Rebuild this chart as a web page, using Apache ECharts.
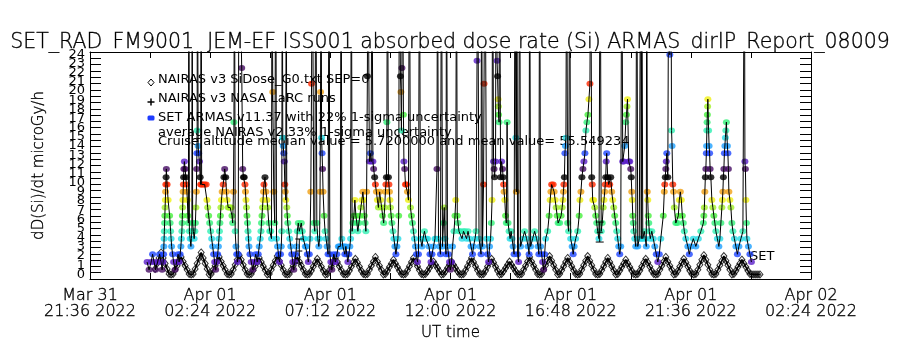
<!DOCTYPE html>
<html><head><meta charset="utf-8">
<script src="https://cdn.jsdelivr.net/npm/echarts@6/dist/echarts.min.js"></script>
<style>html,body{margin:0;padding:0;background:#fff}#c{width:900px;height:350px}</style>
</head><body><div id="c"></div>
<script>
const FONT = 'DejaVu Sans';
const FW = 200;
const titleText = 'SET_RAD_FM9001  JEM-EF ISS001 absorbed dose rate (Si) ARMAS_dirIP_Report_08009';
const xAxisName = 'UT time';
const yAxisName = 'dD(Si)/dt microGy/h';
const xTickLabels = ['Mar 31\n21:36 2022','Apr 01\n02:24 2022','Apr 01\n07:12 2022','Apr 01\n12:00 2022','Apr 01\n16:48 2022','Apr 01\n21:36 2022','Apr 02\n02:24 2022'];
const yTickLabels = ['0','1','2','3','4','5','6','7','8','9','10','11','12','13','14','15','16','17','18','19','20','21','22','23','24'];
const legendTexts = [
  'NAIRAS v3 SiDose_G0.txt SEP=0',
  'NAIRAS v3 NASA LaRC runs',
  'SET ARMAS v11.37 with 22% 1-sigma uncertainty',
  'average NAIRAS v2 33% 1-sigma uncertainty',
  'Cruise altitude median value = 5.7200000 and mean value= 55.549234'
];
const sideLabel = 'SET';

// NAIRAS v3 SiDose model: uniform sampling (hours since Mar 31 21:36)
const nairasStart = 2.60, nairasStep = 0.08;
const nairasDose = [
 0.6,1.2,1.8,2.4,1.8,1.2,0.6,0.05,0.0,
 0.05,0.5,0.95,1.4,1.9,1.4,0.95,0.5,0.05,0.0,
 0.05,0.6,1.2,1.8,2.4,1.8,1.2,0.6,0.0,
 0.05,0.5,0.95,1.4,1.9,1.4,0.95,0.5,0.05,0.0,
 0.05,0.5,1.05,1.6,2.1,1.6,1.05,0.5,0.05,0.0,
 0.05,0.45,0.9,1.35,1.8,1.35,0.9,0.45,0.0,
 0.05,0.5,1.0,1.5,2.0,1.5,1.0,0.5,0.05,0.0,
 0.05,0.5,0.95,1.4,1.9,1.4,0.95,0.5,0.05,0.0,
 0.05,0.4,0.85,1.3,1.7,1.3,0.85,0.4,0.0,
 0.05,0.45,0.9,1.35,1.8,1.35,0.9,0.45,0.05,0.0,
 0.05,0.4,0.85,1.3,1.7,1.3,0.85,0.4,0.05,0.0,
 0.05,0.5,0.95,1.4,1.9,1.4,0.95,0.5,0.0,
 0.05,0.4,0.8,1.2,1.6,1.2,0.8,0.4,0.05,0.0,
 0.05,0.45,0.9,1.35,1.8,1.35,0.9,0.45,0.05,0.0,
 0.05,0.35,0.7,1.05,1.4,1.05,0.7,0.35,0.0,
 0.05,0.35,0.7,1.05,1.4,1.05,0.7,0.35,0.05,0.0,
 0.05,0.45,0.9,1.35,1.8,1.35,0.9,0.45,0.05,0.0,
 0.05,0.4,0.85,1.3,1.7,1.3,0.85,0.4,0.0,
 0.05,0.35,0.7,1.05,1.4,1.05,0.7,0.35,0.05,0.0,
 0.05,0.5,0.95,1.4,1.9,1.4,0.95,0.5,0.05,0.0,
 0.05,0.5,1.0,1.5,2.0,1.5,1.0,0.5,0.0,
 0.05,0.45,0.9,1.35,1.8,1.35,0.9,0.45,0.05,0.0,
 0.05,0.5,1.0,1.5,2.0,1.5,1.0,0.5,0.05,0.0,
 0.05,0.45,0.9,1.35,1.8,1.35,0.9,0.45,0.0,
 0.05,0.4,0.8,1.2,1.6,1.2,0.8,0.4,0.05,0.0,
 0.05,0.4,0.85,1.3,1.7,1.3,0.85,0.4,0.05,0.0,
 0.05,0.5,0.95,1.4,1.9,1.4,0.95,0.5,0.0,
 0.05,0.4,0.85,1.3,1.7,1.3,0.85,0.4,0.05,0.0,
 0.05,0.5,1.05,1.6,2.1,1.6,1.05,0.5,0.05,0.0,
 0.05,0.5,1.0,1.5,2.0,1.5,1.0,0.5,0.0,
 0.05,0.4,0.8,1.2,1.6,1.2,0.8,0.4,0.05,0.0,
 0.0,0.0,0.0,0.0
];

// SET ARMAS measurements [hours since Mar 31 21:36, microGy/h]; 40 = off scale
const armasPoints = [
[2.28,1.35],[2.36,0.5],[2.44,1.35],[2.50,2.2],[2.56,1.35],[2.62,0.5],[2.70,1.35],[2.78,2.2],[2.84,1.35],[2.88,0.5],
[2.92,1.35],[2.94,2.2],[2.95,3.05],[2.96,3.9],[2.97,4.7],[2.98,5.6],[2.99,6.4],[3.00,7.3],[3.01,8.1],[3.02,9.0],[3.03,9.8],[3.04,10.6],[3.05,11.5],[3.08,9.8],[3.12,8.1],[3.18,6.4],[3.20,5.6],[3.22,4.7],[3.24,3.9],[3.26,3.05],[3.30,2.2],[3.34,1.35],[3.40,0.5],[3.46,1.35],[3.52,2.2],[3.56,1.35],
[3.60,2.2],[3.63,3.05],[3.65,3.9],[3.67,4.7],[3.68,5.6],[3.69,6.4],[3.70,7.3],[3.71,8.1],[3.72,9.0],[3.73,9.8],[3.74,10.6],[3.75,11.5],[3.77,12.3],[3.80,11.5],[3.83,10.6],[3.85,9.8],[3.87,9.0],[3.89,8.1],[3.91,6.4],[3.93,5.6],[3.95,40],[3.97,4.7],[4.00,3.9],[4.03,3.05],[4.05,3.9],[4.07,4.7],[4.08,40],[4.10,5.6],[4.13,4.7],[4.16,3.9],[4.19,4.7],[4.21,5.6],[4.23,7.3],[4.25,9.0],[4.26,11.5],[4.27,13.2],[4.28,15.7],[4.29,40],[4.32,14.0],[4.34,13.2],[4.37,12.3],[4.40,10.6],[4.42,9.8],[4.44,40],[4.46,9.8],[4.52,9.8],[4.58,9.8],[4.64,9.8],[4.67,8.1],[4.70,7.3],[4.74,6.4],[4.78,5.6],[4.82,4.7],[4.86,3.9],[4.90,3.05],[4.94,2.2],[4.98,1.35],[5.02,0.5],[5.06,1.35],
[5.10,2.2],[5.13,3.05],[5.15,3.9],[5.17,4.7],[5.19,5.6],[5.21,6.4],[5.23,7.3],[5.25,8.1],[5.28,9.0],[5.32,9.8],[5.35,10.6],[5.38,11.5],[5.42,10.6],[5.45,9.0],[5.48,8.1],[5.52,7.3],[5.56,7.3],[5.60,7.3],[5.64,7.3],[5.67,6.4],[5.70,5.6],
[5.73,9.0],[5.75,16.6],[5.77,40],[5.80,4.7],[5.83,3.05],[5.86,2.2],[5.89,1.35],[5.92,2.2],[5.95,40],[6.06,22.5],[6.10,11.5],[6.13,10.6],[6.16,10.6],[6.19,9.8],[6.21,9.0],[6.23,8.1],[6.25,7.3],[6.27,6.4],[6.29,5.6],[6.31,4.7],[6.33,3.9],[6.35,3.05],[6.39,2.2],[6.44,1.35],[6.50,0.5],[6.56,1.35],[6.62,2.2],[6.68,1.35],
[6.72,2.2],[6.76,3.05],[6.80,3.9],[6.83,4.7],[6.85,5.6],[6.87,6.4],[6.89,7.3],[6.91,8.1],[6.93,9.0],[6.95,9.8],[6.99,10.6],[7.03,9.0],[7.07,8.1],[7.10,7.3],[7.14,5.6],[7.18,4.7],[7.22,4.7],[7.25,3.9],
[7.27,40],[7.30,19.9],[7.34,9.0],[7.38,5.6],[7.42,40],[7.45,3.9],[7.49,3.05],[7.53,2.2],[7.57,1.35],[7.61,2.2],[7.64,3.05],[7.66,4.7],
[7.68,40],[7.70,14.9],[7.72,14.0],[7.74,13.2],[7.76,12.3],[7.78,9.8],[7.80,9.0],[7.82,8.1],[7.84,40],[7.86,7.3],[7.88,6.4],[7.90,5.6],[7.94,4.7],[7.98,3.9],[8.02,3.05],[8.06,2.2],[8.10,1.35],[8.14,0.5],[8.18,1.35],[8.22,2.2],[8.25,3.05],
[8.28,4.7],[8.32,5.6],[8.36,4.7],[8.40,4.7],[8.44,5.6],[8.48,4.7],[8.52,3.9],[8.56,3.9],[8.60,3.05],[8.64,3.05],[8.68,2.2],[8.72,1.35],[8.76,2.2],[8.79,3.9],[8.82,9.0],[8.85,20.8],[8.88,40],[8.94,5.6],[8.98,4.7],[9.02,40],[9.06,5.6],[9.10,3.9],[9.14,3.05],
[9.17,3.9],[9.19,9.0],[9.21,19.9],[9.23,40],[9.25,14.9],[9.27,13.2],[9.29,11.5],[9.31,9.0],[9.35,6.4],[9.39,4.7],[9.43,3.9],[9.47,3.05],[9.51,2.2],[9.55,40],[9.58,2.2],[9.62,1.35],[9.66,0.5],[9.70,1.35],[9.74,2.2],[9.80,1.35],[9.86,2.2],[9.92,3.05],
[9.96,3.05],[10.00,3.05],[10.03,40],[10.06,3.9],[10.10,3.05],[10.14,3.05],[10.18,2.2],[10.22,3.05],[10.26,2.2],[10.30,1.35],[10.34,2.2],[10.38,3.05],[10.41,3.9],
[10.44,40],[10.47,4.7],[10.50,5.6],[10.54,6.4],[10.58,8.1],[10.62,6.4],[10.66,5.6],[10.70,4.7],[10.74,5.6],[10.78,6.4],[10.82,7.3],[10.86,8.1],[10.90,9.0],[10.93,8.1],[10.96,6.4],[10.99,5.6],[11.02,4.7],[11.05,9.0],
[11.08,21.6],[11.10,40],[11.16,12.3],[11.20,13.2],[11.23,12.3],[11.26,40],[11.30,12.3],[11.33,11.5],[11.37,10.6],[11.40,9.8],[11.44,9.0],[11.48,8.1],[11.52,7.3],[11.57,9.0],[11.61,8.1],[11.65,7.3],[11.69,6.4],[11.73,5.6],[11.77,7.3],[11.80,9.0],[11.82,9.8],[11.84,10.6],[11.86,16.6],[11.88,40],[11.92,10.6],[11.94,9.8],[11.96,9.0],[11.98,8.1],[12.00,7.3],[12.03,6.4],[12.06,5.6],[12.10,4.7],[12.14,3.9],[12.18,3.05],[12.22,2.2],[12.26,3.05],[12.30,3.9],[12.33,6.4],
[12.36,40],[12.40,21.6],[12.42,19.9],[12.44,15.7],[12.46,22.5],[12.48,40],[12.52,17.4],[12.54,12.3],[12.57,11.5],[12.60,9.8],[12.64,9.8],[12.68,9.0],[12.72,8.1],[12.76,40],[12.80,7.3],[12.84,6.4],[12.88,5.6],[12.92,4.7],[12.96,3.9],[13.00,3.05],[13.04,2.2],[13.08,1.35],[13.12,2.2],[13.16,40],[13.20,3.9],[13.26,3.05],[13.30,3.9],[13.36,4.7],[13.42,3.9],[13.48,3.9],[13.54,3.05],[13.58,2.2],[13.62,1.35],[13.66,2.2],[13.72,3.05],[13.78,3.9],
[13.82,3.9],[13.86,11.5],[13.88,40],[13.92,3.9],[13.96,3.05],[14.00,2.2],[14.04,40],[14.08,3.05],[14.12,5.6],[14.15,7.3],[14.18,3.9],[14.22,2.2],[14.24,40],[14.28,3.05],[14.32,2.2],[14.36,1.35],[14.40,0.5],[14.44,1.35],[14.48,3.05],
[14.54,4.7],[14.58,6.4],[14.61,8.1],[14.64,40],[14.67,6.4],[14.70,5.6],[14.74,4.7],[14.80,4.7],[14.86,3.9],[14.92,4.7],[14.98,4.7],[15.04,3.9],[15.10,4.7],[15.16,3.9],[15.22,3.05],[15.28,2.2],[15.32,3.05],[15.38,3.9],[15.42,4.7],
[15.46,23.3],[15.48,40],[15.54,3.9],[15.58,3.05],[15.62,2.2],[15.64,40],[15.68,3.05],[15.72,9.8],[15.74,20.8],[15.78,40],[15.84,3.9],[15.88,2.2],[15.92,1.35],[15.96,3.05],[16.00,3.9],[16.03,5.6],[16.06,8.1],
[16.08,40],[16.12,12.3],[16.14,11.5],[16.16,10.6],[16.20,12.3],[16.22,40],[16.26,23.3],[16.28,21.6],[16.30,19.1],[16.31,18.3],[16.32,17.4],[16.34,16.6],[16.36,40],[16.40,10.6],[16.44,12.3],[16.48,11.5],[16.50,10.6],[16.52,9.8],[16.54,9.0],[16.57,8.1],[16.60,6.4],[16.63,5.6],[16.66,16.6],[16.70,5.6],[16.74,4.7],[16.78,3.9],[16.82,4.7],[16.86,3.9],[16.90,3.05],[16.94,2.2],
[16.98,40],[17.01,14.9],[17.03,9.0],[17.05,40],[17.08,2.2],[17.12,1.35],[17.16,40],[17.20,3.05],[17.28,3.9],[17.36,4.7],[17.44,3.9],[17.50,3.05],[17.54,2.2],[17.56,40],[17.60,3.05],[17.68,3.9],[17.76,4.7],[17.84,3.9],[17.90,3.05],[17.93,2.2],[17.96,40],[18.00,3.05],[18.04,2.2],[18.08,1.35],[18.12,0.5],[18.16,2.2],[18.20,3.9],
[18.28,4.7],[18.34,6.4],[18.38,8.1],[18.41,9.0],[18.44,9.8],[18.50,9.8],[18.54,9.0],[18.58,8.1],[18.62,7.3],[18.66,6.4],[18.70,5.6],[18.76,5.6],[18.82,6.4],[18.86,7.3],[18.89,8.1],[18.91,9.0],[18.93,9.8],[18.95,10.6],[18.97,13.2],[18.99,14.0],[19.01,14.9],[19.04,40],[19.08,5.6],[19.12,4.7],[19.16,40],[19.20,3.9],[19.26,3.05],[19.30,2.2],[19.34,3.05],[19.40,3.9],
[19.48,4.7],[19.54,6.4],[19.57,8.1],[19.61,9.0],[19.65,10.6],[19.69,11.5],[19.73,12.3],[19.77,13.2],[19.81,15.7],[19.85,16.6],[19.89,17.4],[19.93,19.1],[19.97,20.8],[20.00,40],[20.04,10.6],[20.06,9.8],[20.08,8.1],[20.12,8.1],[20.16,7.3],[20.20,6.4],[20.24,5.6],[20.28,4.7],[20.33,3.9],[20.38,40],[20.42,4.7],[20.46,5.6],
[20.50,7.3],[20.53,8.1],[20.56,9.0],[20.58,9.8],[20.60,10.6],[20.62,12.3],[20.64,13.2],[20.68,10.6],[20.72,9.8],[20.76,9.8],[20.80,10.6],[20.84,9.0],[20.88,8.1],[20.92,7.3],[20.96,6.4],[21.00,5.6],[21.04,4.7],[21.08,3.9],[21.12,3.05],[21.16,2.2],[21.20,3.05],
[21.24,40],[21.28,12.3],[21.32,12.3],[21.36,14.0],[21.40,16.6],[21.43,17.4],[21.45,18.3],[21.47,19.1],[21.52,12.3],[21.56,12.3],[21.60,11.5],[21.62,10.6],[21.64,9.0],[21.66,8.1],[21.68,6.4],[21.70,5.6],[21.72,4.7],[21.76,3.9],[21.80,3.05],[21.84,40],[21.88,3.05],[21.94,3.9],[22.00,40],[22.02,3.9],[22.04,40],[22.08,3.9],[22.14,4.7],[22.18,3.9],[22.22,3.05],[22.24,40],[22.26,9.0],[22.28,8.1],[22.30,6.4],[22.32,5.6],[22.34,4.7],[22.38,3.9],[22.44,4.7],[22.50,3.9],[22.56,3.05],[22.62,2.2],[22.68,1.35],[22.74,2.2],[22.80,3.9],
[22.90,6.4],[22.94,9.0],[22.96,9.8],[22.98,10.6],[23.00,11.5],[23.02,12.3],[23.04,13.2],[23.08,10.6],[23.12,40],[23.16,23.95],[23.20,40],[23.23,15.7],[23.25,14.0],[23.28,9.8],[23.31,9.0],[23.34,7.3],[23.40,5.6],[23.46,5.6],[23.50,6.4],[23.54,8.1],[23.58,9.0],[23.62,8.1],[23.66,6.4],[23.70,5.6],[23.74,4.7],[23.80,3.9],[23.88,3.05],[23.94,2.2],[24.00,3.05],[24.10,3.9],[24.20,3.05],[24.30,3.9],[24.40,4.7],
[24.50,5.6],[24.52,6.4],[24.54,7.3],[24.56,9.0],[24.58,10.6],[24.60,11.5],[24.62,13.2],[24.63,14.0],[24.64,15.7],[24.65,16.6],[24.66,17.4],[24.67,18.3],[24.68,19.1],[24.71,15.7],[24.73,14.0],[24.75,13.2],[24.77,11.5],[24.80,10.6],[24.84,8.1],[24.88,7.3],[24.92,6.4],[24.96,5.6],[25.00,4.7],[25.06,3.9],[25.12,3.05],[25.16,3.9],
[25.20,5.6],[25.24,7.3],[25.26,8.1],[25.28,9.0],[25.30,10.6],[25.32,11.5],[25.34,13.2],[25.36,14.0],[25.38,14.9],[25.40,15.7],[25.42,16.6],[25.46,14.0],[25.48,13.2],[25.50,11.5],[25.52,9.0],[25.56,8.1],[25.60,7.3],[25.64,5.6],[25.68,4.7],[25.74,3.9],[25.80,3.05],[25.86,2.2],[25.92,3.05],[26.00,3.9],[26.08,4.7],
[26.14,40],[26.16,12.3],[26.18,11.5],[26.20,8.1],[26.22,5.6],[26.24,3.9],[26.30,3.05],[26.36,2.2],[26.42,1.35]
];

// NAIRAS v3 NASA LaRC runs with 1-sigma bars
const larcTime = [8.36, 20.36];
const larcDose = [2.55, 4.6];
const larcLow  = [1.24, 3.53];
const larcHigh = [3.86, 5.71];

// colour cycle used for ARMAS dose levels (level step ~0.845)
const levelPalette = ['#460c64','#5a1ec8','#1e46ff','#1ea0ff','#28dce6','#32f0b4','#32f078','#46f03c','#a0f028','#f0f014','#f0a014','#ff2800','#000000'];
const levelStep = 0.845, levelBase = 0.5;

const chart = echarts.init(document.getElementById('c'), null, {renderer:'canvas'});
const nairasData = nairasDose.map((v,i)=>[nairasStart + i*nairasStep, v]);
const larcData = larcTime.map((t,i)=>[t, larcDose[i], larcLow[i], larcHigh[i]]);

function levelColor(v){
  const k = Math.round((v-levelBase)/levelStep);
  return levelPalette[((k%13)+13)%13];
}
function xLabel(v){
  const i = Math.round(v/4.8);
  return Math.abs(v - i*4.8) < 1e-6 && xTickLabels[i] ? xTickLabels[i] : '';
}
function yLabel(v){
  const i = Math.round(v);
  return Math.abs(v - i) < 1e-6 && yTickLabels[i] !== undefined ? yTickLabels[i] : '';
}
const txt = (t,x,y,size)=>({type:'text', x, y, silent:true, style:{text:t, x:0, y:0, font:'normal '+size+'px "'+FONT+'"', fill:'#000', textAlign:'left', textVerticalAlign:'middle', align:'left', verticalAlign:'middle'}});
const thinDark = {textBorderColor:'#000', textBorderWidth:0.35};

const option = {
  animation:false,
  backgroundColor:'#fff',
  title:{text:titleText, left:'center', top:27, textStyle:Object.assign({fontFamily:FONT, fontSize:20.5, fontWeight:FW, color:'#000'}, thinDark)},
  grid:{left:90, right:89, top:52, bottom:71, containLabel:false},
  xAxis:[
    {type:'value', position:'bottom', min:0, max:28.8, interval:2.4,
     name:xAxisName, nameLocation:'middle', nameGap:45, nameTextStyle:Object.assign({fontFamily:FONT, fontSize:15, fontWeight:FW, color:'#000'}, thinDark),
     axisLine:{show:true, onZero:false, lineStyle:{color:'#000', width:1}},
     axisTick:{show:true, inside:true, length:6, lineStyle:{color:'#000'}},
     axisLabel:Object.assign({formatter:xLabel, fontFamily:FONT, fontSize:16, fontWeight:FW, color:'#000', margin:9, lineHeight:16}, thinDark),
     splitLine:{show:false}},
    {type:'value', position:'top', min:0, max:28.8, interval:2.4,
     axisLine:{show:true, onZero:false, lineStyle:{color:'#000', width:1}},
     axisTick:{show:true, inside:true, length:6, lineStyle:{color:'#000'}},
     axisLabel:{show:false}, splitLine:{show:false}}
  ],
  yAxis:[
    {type:'value', position:'left', min:-0.5, max:24.25, interval:0.5,
     name:yAxisName, nameLocation:'middle', nameGap:43, nameRotate:90, nameTextStyle:Object.assign({fontFamily:FONT, fontSize:15, fontWeight:FW, color:'#000'}, thinDark),
     axisLine:{show:true, onZero:false, lineStyle:{color:'#000', width:1}},
     axisTick:{show:false},
     axisLabel:{formatter:yLabel, fontFamily:FONT, fontSize:13, color:'#000', margin:5},
     splitLine:{show:false}},
    {type:'value', position:'left', min:0, max:36, interval:1,
     axisLine:{show:false}, axisTick:{show:true, inside:true, length:11, lineStyle:{color:'#000'}},
     axisLabel:{show:false}, splitLine:{show:false}},
    {type:'value', position:'right', min:0, max:36, interval:1,
     axisLine:{show:true, onZero:false, lineStyle:{color:'#000'}}, axisTick:{show:true, inside:true, length:11, lineStyle:{color:'#000'}},
     axisLabel:{show:false}, splitLine:{show:false}}
  ],
  series:[
    {type:'line', name:'NAIRAS line', data:nairasData, showSymbol:false, symbol:'none', z:2, clip:true,
     lineStyle:{color:'#000', width:1.6}, silent:true},
    {type:'scatter', name:'NAIRAS', data:nairasData, symbol:'diamond', symbolSize:[6,7], z:2,
     itemStyle:{color:'rgba(0,0,0,0)', borderColor:'#000', borderWidth:1}, silent:true},
    {type:'scatter', name:'ARMAS points', data:armasPoints, symbol:'circle', symbolSize:[7,6], z:3,
     itemStyle:{color:p=>levelColor(p.value[1])}, silent:true},
    {type:'line', name:'ARMAS line', data:armasPoints, showSymbol:false, symbol:'none', z:4, clip:true,
     lineStyle:{color:'#000', width:1}, silent:true},
    {type:'custom', name:'LaRC', data:larcData, z:5, silent:true,
     renderItem:(params, api)=>{
       const x = api.value(0);
       const lo = api.coord([x, api.value(2)]), hi = api.coord([x, api.value(3)]), mid = api.coord([x, api.value(1)]);
       const s = {stroke:'#000', lineWidth:1};
       return {type:'group', children:[
         {type:'line', shape:{x1:lo[0], y1:lo[1], x2:hi[0], y2:hi[1]}, style:s},
         {type:'line', shape:{x1:lo[0]-4, y1:lo[1], x2:lo[0]+4, y2:lo[1]}, style:s},
         {type:'line', shape:{x1:hi[0]-4, y1:hi[1], x2:hi[0]+4, y2:hi[1]}, style:s},
         {type:'line', shape:{x1:mid[0]-3, y1:mid[1], x2:mid[0]+3, y2:mid[1]}, style:s}
       ]};
     }}
  ],
  graphic:[
    {type:'polygon', shape:{points:[[151,79],[154,82.5],[151,86],[148,82.5]]}, style:{fill:'none', stroke:'#000', lineWidth:1}},
    {type:'line', shape:{x1:147.5, y1:102, x2:154.5, y2:102}, style:{stroke:'#000', lineWidth:1.5}},
    {type:'line', shape:{x1:151, y1:98.5, x2:151, y2:105.5}, style:{stroke:'#000', lineWidth:1.5}},
    {type:'rect', shape:{x:147.5, y:115.5, width:7, height:5, r:1.5}, style:{fill:'#1e3cff'}},
    txt(legendTexts[0],158,80,13),
    txt(legendTexts[1],158,99,13),
    txt(legendTexts[2],158,118,13),
    txt(legendTexts[3],158,133,13),
    txt(legendTexts[4],158,142,13),
    txt(sideLabel,750,257,13)
  ]
};
chart.setOption(option);
</script></body></html>
